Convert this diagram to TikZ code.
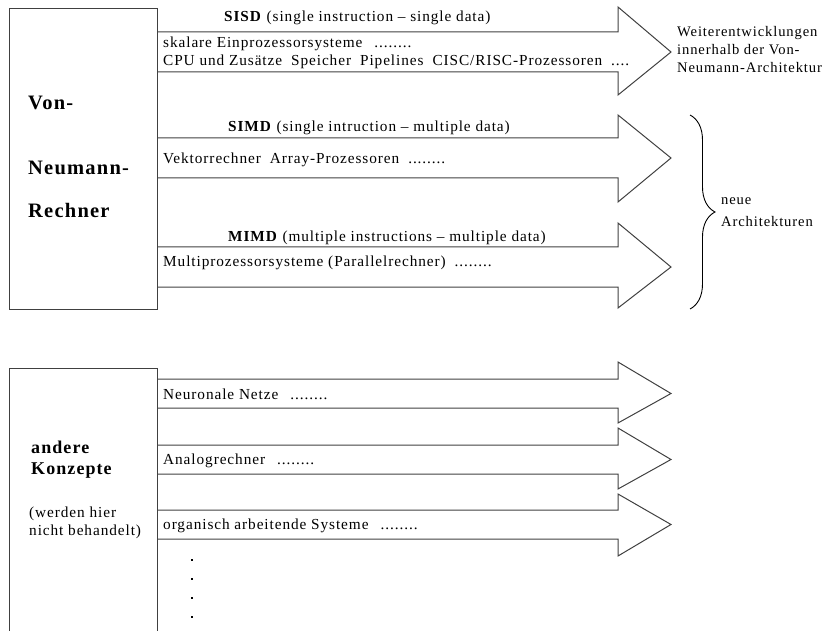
\documentclass[tikz,border=0pt]{standalone}
\usepackage{fontspec}
\setmainfont{Liberation Serif}[LetterSpace=6]
\usetikzlibrary{decorations.pathreplacing}
\definecolor{linegray}{gray}{0.25}
\begin{document}
\begin{tikzpicture}[x=1pt,y=-1pt,
  outline/.style={draw=linegray, line width=1pt, line join=miter},
  txt/.style={font=\fontsize{15.3}{17}\selectfont, anchor=base west, inner sep=0pt},
  note/.style={font=\fontsize{14.6}{17}\selectfont, anchor=base west, inner sep=0pt},
  head/.style={font=\fontsize{20.5}{22}\selectfont\bfseries, anchor=base west, inner sep=0pt},
  subhead/.style={font=\fontsize{18}{20}\selectfont\bfseries, anchor=base west, inner sep=0pt},
  dot/.style={rectangle, fill=black, inner sep=0pt, minimum size=2pt}]
\useasboundingbox (0,0) rectangle (838,631);

% wide block arrow: shaft top, shaft bottom, head top, head bottom
\newcommand{\blockarrow}[4]{%
  \draw[outline] (157,#1) -- (618,#1) -- (618,#3) -- (671,{(#1+#2)/2})
    -- (618,#4) -- (618,#2) -- (157,#2);}

% Von-Neumann box
\draw[outline] (9,9) rectangle (157,309);
\node[head] (von) at (28,110) {Von-};
\node[head] (neu) at (28,175) {Neumann-};
\node[head] (rech) at (28,218) {Rechner};

% Von-Neumann branches
\blockarrow{32}{72}{7}{95}
\blockarrow{138}{178}{115}{202}
\blockarrow{247}{287}{223}{308}

\node[txt] (sisd) at (224,22) {\textbf{SISD} (single instruction -- single data)};
\node[txt] (sisd1) at (163,48) {skalare Einprozessorsysteme\hspace{12pt}........};
\node[txt] (sisd2) at (163,66) {CPU und Zusätze\hspace{9pt}Speicher\hspace{9pt}Pipelines\hspace{9pt}CISC/RISC-Prozessoren\hspace{9pt}....};

\node[txt] (simd) at (228,132) {\textbf{SIMD} (single intruction -- multiple data)};
\node[txt] (simd1) at (163,164) {Vektorrechner\hspace{9pt}Array-Prozessoren\hspace{9pt}........};

\node[txt] (mimd) at (228,241) {\textbf{MIMD} (multiple instructions -- multiple data)};
\node[txt] (mimd1) at (163,266) {Multiprozessorsysteme (Parallelrechner)\hspace{9pt}........};

% notes on the right
\node[note] (w1) at (677,37) {Weiterentwicklungen};
\node[note] (w2) at (677,55) {innerhalb der Von-};
\node[note] (w3) at (677,73) {Neumann-Architektur};

\coordinate (bt) at (690,115);
\coordinate (bb) at (690,309);
\draw[line width=0.9pt, decorate, decoration={brace, amplitude=25pt}] (bt) -- (bb);
\node[note] (n1) at (721,205) {neue};
\node[note] (n2) at (721,227) {Architekturen};

% other concepts box (open at the bottom)
\draw[outline] (9,640) -- (9,368) -- (157,368) -- (157,640);
\node[subhead] (and) at (31,453) {andere};
\node[subhead] (konz) at (31,474) {Konzepte};
\node[txt] (wh1) at (29,517) {(werden hier};
\node[txt] (wh2) at (29,535) {nicht behandelt)};

\blockarrow{379}{408}{362}{423}
\blockarrow{445}{474}{428}{489}
\blockarrow{510}{539}{494}{556}

\node[txt] (nn) at (163,399) {Neuronale Netze\hspace{12pt}........};
\node[txt] (ar) at (163,464) {Analogrechner\hspace{12pt}........};
\node[txt] (os) at (163,529) {organisch arbeitende Systeme\hspace{12pt}........};

\node[dot] (d1) at (192,560) {};
\node[dot] (d2) at (192,579) {};
\node[dot] (d3) at (192,598) {};
\node[dot] (d4) at (192,617) {};
\end{tikzpicture}
\end{document}
